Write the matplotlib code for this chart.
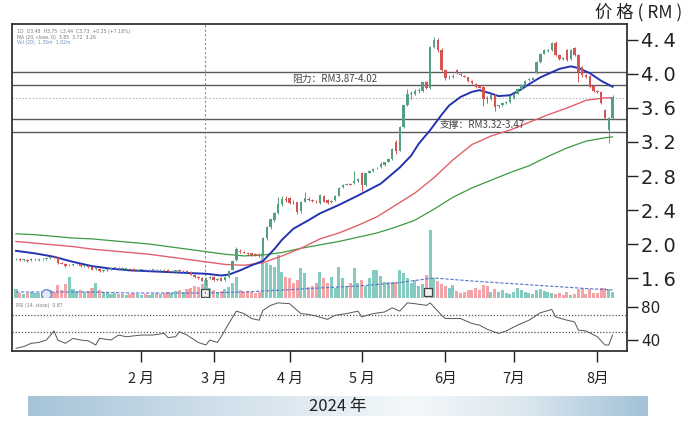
import numpy as np
import matplotlib
matplotlib.use("Agg")
import matplotlib.pyplot as plt
from matplotlib.colors import LinearSegmentedColormap

plt.rcParams['font.family'] = ['DejaVu Sans']
CJK = ['Noto Sans CJK SC', 'DejaVu Sans']

# ---------------- data ----------------
opens = [1.82,1.82,1.81,1.81,1.81,1.82,1.81,1.82,1.82,1.83,
         1.85,1.84,1.78,1.77,1.75,1.75,1.76,1.76,1.74,1.74,
         1.73,1.71,1.71,1.68,1.69,1.71,1.72,1.72,1.71,1.71,
         1.71,1.71,1.69,1.70,1.70,1.69,1.70,1.70,1.69,1.70,
         1.70,1.68,1.68,1.69,1.68,1.68,1.67,1.64,1.61,1.60,
         1.55,1.60,1.61,1.58,1.60,1.58,1.61,1.70,1.81,1.92,
         1.91,1.90,1.89,1.88,1.88,1.87,2.07,2.20,2.28,2.36,
         2.47,2.53,2.54,2.50,2.49,2.39,2.50,2.53,2.52,2.50,
         2.48,2.57,2.52,2.49,2.52,2.57,2.67,2.70,2.71,2.72,
         2.74,2.84,2.69,2.84,2.86,2.89,2.91,2.93,2.97,3.00,
         3.20,3.10,3.38,3.63,3.76,3.77,3.80,3.80,3.90,3.83,
         4.32,4.40,4.28,4.05,3.96,3.97,4.05,4.00,3.98,3.96,
         3.92,3.88,3.86,3.85,3.72,3.70,3.75,3.62,3.63,3.66,
         3.67,3.72,3.77,3.82,3.87,3.93,3.93,4.01,4.14,4.24,
         4.27,4.28,4.37,4.22,4.19,4.28,4.18,4.30,4.22,4.08,
         3.99,3.98,3.86,3.80,3.79,3.58,3.34,3.48]
closes = [1.82,1.81,1.81,1.80,1.82,1.82,1.81,1.82,1.83,1.85,
          1.84,1.78,1.77,1.74,1.75,1.76,1.76,1.74,1.74,1.73,
          1.70,1.71,1.68,1.69,1.71,1.72,1.72,1.71,1.72,1.71,
          1.70,1.69,1.70,1.70,1.69,1.70,1.70,1.69,1.70,1.69,
          1.68,1.68,1.69,1.68,1.68,1.67,1.64,1.61,1.60,1.57,
          1.60,1.61,1.58,1.59,1.57,1.61,1.68,1.80,1.94,1.91,
          1.90,1.88,1.87,1.87,1.86,2.07,2.20,2.29,2.36,2.47,
          2.53,2.52,2.48,2.49,2.38,2.50,2.54,2.52,2.51,2.49,
          2.58,2.50,2.48,2.51,2.57,2.66,2.70,2.71,2.70,2.74,
          2.76,2.69,2.83,2.86,2.88,2.90,2.94,2.96,3.00,3.12,
          3.10,3.38,3.63,3.76,3.78,3.80,3.81,3.90,3.83,4.32,
          4.40,4.28,4.05,3.95,3.97,3.98,4.01,3.99,3.97,3.92,
          3.89,3.85,3.84,3.70,3.70,3.75,3.61,3.63,3.66,3.67,
          3.74,3.77,3.82,3.87,3.92,3.94,3.95,4.14,4.24,4.28,
          4.28,4.37,4.22,4.18,4.18,4.16,4.28,4.22,4.02,3.99,
          3.96,3.85,3.80,3.79,3.66,3.48,3.48,3.73]
highs = [1.83,1.83,1.82,1.82,1.83,1.83,1.82,1.83,1.84,1.86,
         1.86,1.85,1.79,1.78,1.76,1.77,1.77,1.77,1.75,1.75,
         1.74,1.72,1.72,1.70,1.72,1.73,1.73,1.73,1.73,1.72,
         1.72,1.72,1.71,1.71,1.71,1.71,1.71,1.71,1.71,1.71,
         1.71,1.69,1.70,1.70,1.69,1.69,1.68,1.65,1.62,1.61,
         1.61,1.62,1.62,1.60,1.61,1.62,1.69,1.81,1.96,1.94,
         1.92,1.91,1.90,1.89,1.89,2.08,2.21,2.30,2.38,2.55,
         2.56,2.56,2.55,2.52,2.50,2.51,2.61,2.55,2.53,2.52,
         2.59,2.58,2.53,2.52,2.58,2.67,2.71,2.72,2.72,2.86,
         2.78,2.85,2.84,2.87,2.89,2.91,2.97,2.97,3.01,3.13,
         3.22,3.39,3.64,3.82,3.80,3.82,3.83,3.91,3.92,4.33,
         4.43,4.42,4.30,4.06,3.99,4.00,4.06,4.01,3.99,3.97,
         3.93,3.89,3.87,3.86,3.74,3.76,3.76,3.64,3.67,3.68,
         3.75,3.78,3.83,3.88,3.93,3.95,3.96,4.15,4.25,4.29,
         4.29,4.38,4.39,4.23,4.20,4.29,4.29,4.32,4.23,4.09,
         4.00,3.99,3.87,3.81,3.80,3.59,3.49,3.75]
lows = [1.81,1.80,1.80,1.79,1.80,1.81,1.80,1.81,1.81,1.82,
        1.83,1.77,1.76,1.73,1.74,1.74,1.75,1.73,1.73,1.72,
        1.69,1.70,1.67,1.67,1.68,1.70,1.71,1.70,1.70,1.70,
        1.69,1.68,1.68,1.69,1.68,1.68,1.69,1.68,1.68,1.68,
        1.67,1.67,1.67,1.67,1.67,1.66,1.63,1.60,1.59,1.56,
        1.51,1.59,1.57,1.57,1.56,1.57,1.60,1.69,1.80,1.90,
        1.89,1.87,1.86,1.86,1.85,1.86,2.05,2.18,2.26,2.35,
        2.45,2.50,2.47,2.47,2.35,2.37,2.49,2.51,2.50,2.48,
        2.47,2.49,2.47,2.48,2.51,2.56,2.66,2.69,2.69,2.71,
        2.73,2.62,2.68,2.83,2.85,2.88,2.90,2.92,2.96,2.99,
        3.06,3.09,3.37,3.62,3.70,3.75,3.78,3.79,3.82,3.82,
        4.30,4.26,4.03,3.93,3.94,3.95,4.00,3.98,3.96,3.91,
        3.88,3.84,3.83,3.62,3.66,3.69,3.57,3.60,3.62,3.65,
        3.66,3.71,3.76,3.81,3.86,3.92,3.92,4.00,4.13,4.23,
        4.26,4.27,4.21,4.17,4.17,4.15,4.17,4.21,3.90,3.97,
        3.95,3.84,3.79,3.78,3.65,3.47,3.19,3.47]
volumes = [0.9,0.5,0.4,0.5,0.6,0.5,0.5,0.6,0.7,0.8,
           0.6,1.3,0.8,1.4,2.1,0.9,0.7,0.8,0.6,0.7,
           1.0,1.5,0.8,0.6,0.5,0.4,0.5,0.4,0.4,0.3,
           0.4,0.5,0.4,0.3,0.4,0.3,0.4,0.5,0.4,0.5,
           0.6,0.5,0.7,0.8,0.6,0.9,1.0,1.2,1.1,1.4,
           1.8,1.0,0.8,0.6,0.7,0.9,1.1,1.5,2.1,0.8,
           0.6,0.7,0.6,0.5,0.6,4.5,3.5,3.3,3.1,4.3,
           2.6,2.1,2.0,1.5,1.8,3.0,2.5,1.1,1.2,1.5,
           2.6,2.0,1.5,2.1,1.0,3.1,2.0,1.2,1.5,3.0,
           1.5,1.8,1.2,2.0,2.8,2.8,2.2,1.6,1.6,1.6,
           1.6,2.8,2.5,2.0,1.5,1.8,1.2,1.4,2.3,6.8,
           2.0,1.7,1.4,1.2,1.0,1.3,0.7,0.5,0.6,0.8,
           0.8,1.0,0.8,1.3,1.2,0.6,0.9,0.6,0.8,0.5,
           0.4,0.6,1.0,0.8,0.6,0.5,0.4,0.8,0.9,0.7,
           0.6,0.5,0.4,0.5,0.3,0.6,0.3,0.4,0.9,1.0,
           0.4,0.9,0.5,0.5,1.0,1.0,0.9,0.6]

blue_idx = [0,5,10,15,20,25,30,35,40,45,50,54,56,59,62,65,68,70,73,77,80,85,
            90,96,101,104,106,109,112,114,117,120,122,125,127,130,133,135,138,
            141,143,146,148,151,154,157]
ma_blue = [1.92,1.89,1.85,1.79,1.74,1.71,1.69,1.68,1.67,1.66,1.65,1.63,1.64,
           1.69,1.75,1.80,1.94,2.05,2.18,2.28,2.36,2.46,2.57,2.71,2.90,3.04,
           3.18,3.34,3.52,3.63,3.73,3.79,3.81,3.77,3.74,3.75,3.82,3.88,3.96,
           4.02,4.06,4.09,4.07,4.01,3.92,3.85]
ma_idx = [0,5,10,15,20,25,30,35,40,45,50,55,60,65,70,75,80,85,90,95,
          100,105,110,115,120,125,130,135,140,145,150,155,157]
ma_red = [2.03,2.01,1.99,1.97,1.94,1.92,1.90,1.88,1.85,1.82,1.79,1.76,1.75,
          1.78,1.86,1.95,2.06,2.13,2.22,2.32,2.46,2.60,2.78,2.99,3.17,3.27,
          3.34,3.43,3.52,3.60,3.69,3.72,3.72]
ma_green = [2.12,2.11,2.09,2.07,2.06,2.04,2.02,2.00,1.97,1.94,1.91,1.88,1.86,
            1.87,1.90,1.95,1.99,2.03,2.08,2.13,2.20,2.28,2.41,2.55,2.66,2.75,
            2.84,2.92,3.03,3.13,3.21,3.25,3.26]
volma_idx = [0,10,20,30,40,50,60,70,80,90,100,110,120,130,140,150,157]
volma = [0.6,0.6,0.6,0.5,0.5,0.5,0.6,0.8,1.0,1.2,1.5,2.0,1.7,1.45,1.2,0.95,0.8]

rsi_idx = [0,2,4,6,8,10,11,13,15,17,19,21,22,25,27,29,33,36,39,40,42,43,45,48,
           50,51,53,54,56,58,60,62,64,65,67,69,72,75,77,79,82,84,87,90,91,94,
           97,99,101,103,105,108,109,112,113,117,120,122,124,127,129,132,135,
           138,141,142,145,147,148,150,153,155,156,157]
rsi_val = [30,32,36,37,40,51,40,36,42,40,39,34,42,40,46,44,46,46,48,43,44,50,46,37,
           34,40,37,44,60,75,72,66,64,76,82,85,84,72,71,69,65,70,72,75,68,72,
           74,79,75,85,84,82,85,70,66,66,60,58,53,48,51,58,64,
           73,77,68,64,62,52,51,44,34,34,46]

resistance = [3.87, 4.02]
support = [3.32, 3.47]
last_level = 3.72
event_idx = 49.7
marker_circle_idx = 8
marker_square_idx = [49.7, 108.5]
month_idx = [33, 52, 72, 91, 113, 131, 153]
month_labels = ['2 月', '3 月', '4 月', '5 月', '6月', '7月', '8月']
price_ticks = [1.6, 2.0, 2.4, 2.8, 3.2, 3.6, 4.0, 4.4]
rsi_ticks = [40, 80]
rsi_levels = [50, 70]

# ---------------- style ----------------
UP = '#55a083'
DN = '#d65452'
VUP = '#86cbc1'
VDN = '#f2a4a8'
FRAME = '#333333'

W, H = 690, 426
fig = plt.figure(figsize=(6.9, 4.26), dpi=100)
L = 12 / W
R = 627 / W
p_top, p_bot = 24, 298
r_bot = 351
rect_p = [L, 1 - p_bot / H, R - L, (p_bot - p_top) / H]
axv = fig.add_axes(rect_p, zorder=0)
ax = fig.add_axes(rect_p, zorder=2)
ax.patch.set_alpha(0)
axr = fig.add_axes([L, 1 - r_bot / H, R - L, (r_bot - p_bot) / H], zorder=2)

xlim = (-1.05, 160.8)
x = np.arange(len(closes))
o = np.array(opens); c = np.array(closes)
hi = np.array(highs); lo = np.array(lows)
up = c >= o
cols = np.where(up, UP, DN)

# volume
axv.set_xlim(*xlim)
axv.set_ylim(0, 27.4)
axv.bar(x, volumes, width=0.8, color=np.where(up, VUP, VDN), zorder=1)
axv.plot(volma_idx, volma, color='#5b74c9', lw=0.8, ls=(0, (3, 1.5)), zorder=2)
axv.plot([marker_circle_idx], [0.45], marker='o', ms=7, mfc='#dfe8f8',
         mec='#6f8fd0', mew=1.0, ls='none', zorder=3)
axv.plot(marker_square_idx, [0.5, 0.6], marker='s', ms=6, mfc='#f0f0f0',
         mec='#444444', mew=0.9, ls='none', zorder=3)
axv.axis('off')

# price panel
ax.set_xlim(*xlim)
ax.set_ylim(1.365, 4.588)
for lv in resistance + support:
    ax.axhline(lv, color='#5a5a5a', lw=1.0, zorder=1)
ax.axhline(last_level, color='#bdbdbd', lw=0.8, ls=(0, (1.5, 1.5)), zorder=1)
ax.axvline(event_idx, color='#8a8a8a', lw=0.8, ls=(0, (2, 2)), zorder=1)

ax.plot(ma_idx, ma_green, color='#3c9a43', lw=0.9, zorder=3)
ax.plot(ma_idx, ma_red, color='#e2616b', lw=1.0, zorder=3)
ax.plot(blue_idx, ma_blue, color='#2434b0', lw=1.4, zorder=3,
        solid_joinstyle='round')

ax.vlines(x, lo, hi, colors=cols, lw=0.7, zorder=4)
body = np.maximum(np.abs(c - o), 0.008)
ax.bar(x, body, bottom=np.minimum(o, c), width=0.66, color=cols, zorder=5)

ax.text(72.6, 3.945, '阻力：RM3.87-4.02', fontsize=7, color='#444444',
        va='center', ha='left', family=CJK, zorder=6)
ax.text(111.6, 3.395, '支撑：RM3.32-3.47', fontsize=7, color='#444444',
        va='center', ha='left', family=CJK, zorder=6)

hdr = ['1D  O3.48  H3.75  L3.44  C3.73  +0.25 (+7.18%)',
       'MA (20, close, 0)  3.85  3.72  3.26',
       'Vol (20)  1.35m  1.02m']
hdr_col = ['#7a7a7a', '#7a7a7a', '#6d8fb8']
for k, (t, cc) in enumerate(zip(hdr, hdr_col)):
    ax.text(0.008, 0.982 - k * 0.021, t, transform=ax.transAxes, fontsize=3.3,
            color=cc, va='top', ha='left')

ax.yaxis.tick_right()
ax.set_yticks(price_ticks)
ax.set_yticklabels([f'{v:.1f}'.replace('.', '.\u2009') for v in price_ticks],
                   fontsize=14, color='#222222')
ax.tick_params(axis='y', direction='out', length=8, width=1.0, pad=2, colors='#222222')
ax.set_xticks([])
for s in ['left', 'right', 'top']:
    ax.spines[s].set_color(FRAME)
    ax.spines[s].set_linewidth(1.3)
ax.spines['bottom'].set_color('#d0d0d0')
ax.spines['bottom'].set_linewidth(0.8)

# RSI panel
axr.set_xlim(*xlim)
axr.set_ylim(26.7, 90.9)
for lv in rsi_levels:
    axr.axhline(lv, color='#555555', lw=0.9, ls=(0, (1, 1.5)))
axr.plot(rsi_idx, rsi_val, color='#555555', lw=0.7)
axr.text(0.006, 0.86, 'RSI (14, close)  0.87', transform=axr.transAxes, fontsize=3.3,
         color='#7a7a7a', va='center')
axr.yaxis.tick_right()
axr.set_yticks(rsi_ticks)
axr.set_yticklabels([str(v) for v in rsi_ticks], fontsize=11, color='#222222')
axr.tick_params(axis='y', direction='out', length=8, width=1.0, pad=2, colors='#222222')
axr.set_xticks(month_idx)
axr.set_xticklabels(month_labels, fontsize=10.5, color='#222222')
for lbl in axr.get_xticklabels():
    lbl.set_fontfamily(CJK)
axr.tick_params(axis='x', direction='out', length=8, width=1.0, pad=7, colors='#222222')
axr.spines['top'].set_visible(False)
for s in ['left', 'right', 'bottom']:
    axr.spines[s].set_color(FRAME)
    axr.spines[s].set_linewidth(1.3)

# header unit
fig.text(682 / W, 1 - 12 / H, '价 格 ( RM )', fontsize=12.5, ha='right', va='center',
         color='#222222', family=CJK)

# year band
axb = fig.add_axes([28 / W, 1 - 416 / H, 620 / W, 20 / H])
cmap = LinearSegmentedColormap.from_list('band', [(0, '#a6c4d8'), (0.3, '#cfdfea'),
                                                  (0.62, '#f4f8fa'), (0.8, '#dbe7ef'),
                                                  (1, '#a3c2d7')])
axb.imshow(np.linspace(0, 1, 256).reshape(1, -1), aspect='auto', cmap=cmap,
           extent=(0, 1, 0, 1))
axb.set_xlim(0, 1); axb.set_ylim(0, 1)
axb.axis('off')
axb.text(0.5, 0.5, '2024 年', fontsize=12, ha='center', va='center', color='#222222',
         family=CJK)

fig.savefig('out.png', dpi=100)
